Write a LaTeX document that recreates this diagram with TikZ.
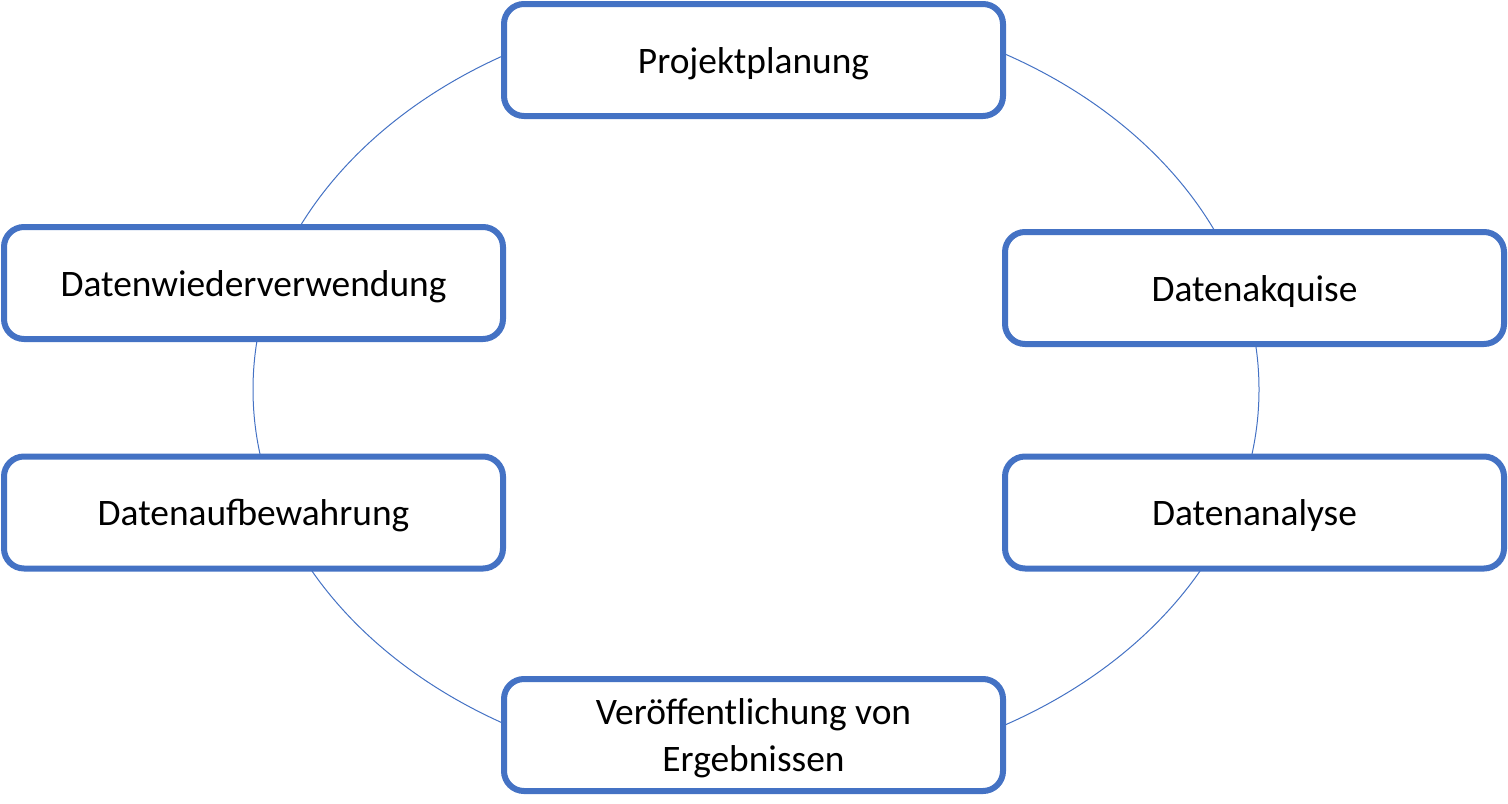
\documentclass[tikz,border=0pt]{standalone}
\usepackage{fontspec}
\setmainfont{Carlito}
\definecolor{boxblue}{HTML}{4472C4}
\begin{document}
\begin{tikzpicture}[x=0.5pt,y=-0.5pt,
  stagebox/.style={draw=boxblue, line width=3pt, fill=white, rounded corners=10pt,
    minimum width=249.5pt, minimum height=56pt, inner sep=0pt, align=center,
    text depth=0pt, font=\fontsize{18.7}{23.5}\selectfont, text=black},
  oneline/.style={text height=13pt},
  cycle/.style={draw=boxblue, line width=0.5pt}]
\useasboundingbox (0,0) rectangle (1508,803);
\draw[cycle] (756,389.5) ellipse [x radius=503, y radius=386];
\node[stagebox,oneline] (plan) at (753.5,60) {Projektplanung};
\node[stagebox,oneline] (akq) at (1254.5,288) {Datenakquise};
\node[stagebox,oneline] (ana) at (1254.5,512.5) {Datenanalyse};
\node[stagebox] (pub) at (753.5,735) {Veröffentlichung von\\Ergebnissen};
\node[stagebox,oneline] (auf) at (253.5,512.5) {Datenaufbewahrung};
\node[stagebox,oneline] (wv) at (253.5,283) {Datenwiederverwendung};
\end{tikzpicture}
\end{document}
